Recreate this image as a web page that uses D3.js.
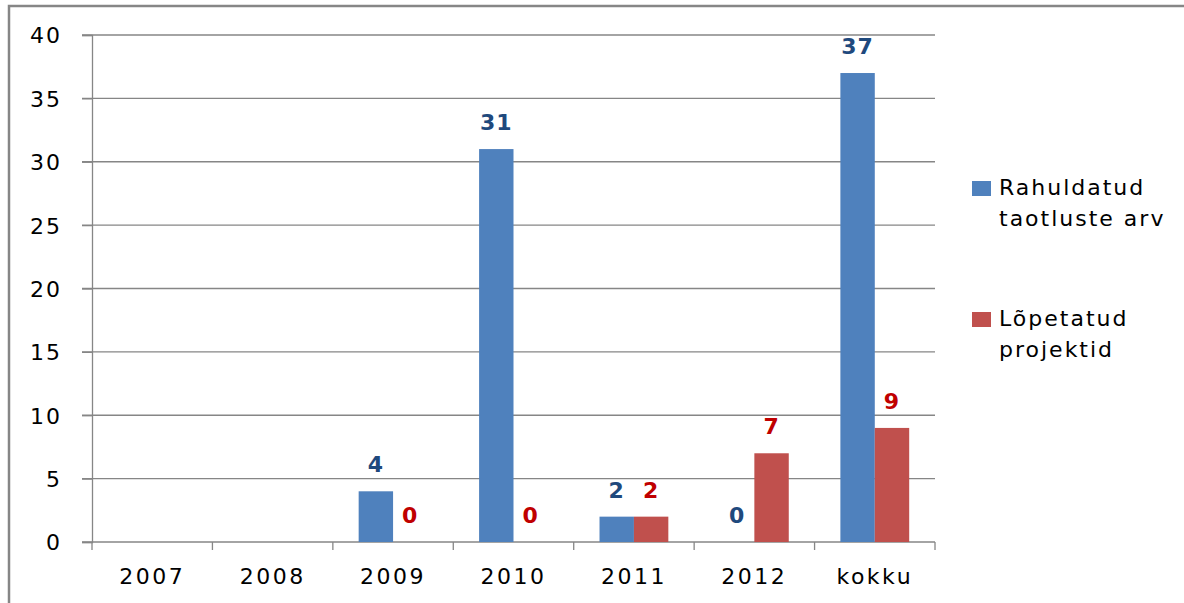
<!DOCTYPE html>
<html>
<head>
<meta charset="utf-8">
<script src="https://cdn.jsdelivr.net/npm/d3@7"></script>
<style>
  body { margin: 0; background: #fff; }
  text { font-family: "DejaVu Sans", Verdana, sans-serif; }
</style>
</head>
<body>
<div id="chart"></div>
<script>
var categories = ['2007', '2008', '2009', '2010', '2011', '2012', 'kokku'];
var seriesNames = ['Rahuldatud taotluste arv', 'Lõpetatud projektid'];
var rahuldatud = [null, null, 4, 31, 2, 0, 37];
var lopetatud = [null, null, 0, 0, 2, 7, 9];
var yTicks = [0, 5, 10, 15, 20, 25, 30, 35, 40];

var barColors = ['#4F81BD', '#C0504D'];
var labelColors = ['#1F497D', '#C00000'];
var gray = '#868686';

var width = 1184, height = 603;

var svg = d3.select('#chart')
    .append('svg')
    .attr('width', width)
    .attr('height', height);

// outer frame (only top and left edges are visible)
svg.append('path')
    .attr('d', 'M9,' + height + ' V6 H' + width)
    .attr('fill', 'none')
    .attr('stroke', gray)
    .attr('stroke-width', 2.5);

var yScale = d3.scaleLinear().domain([0, 40]).range([542, 35]);
var xScale = d3.scaleBand().domain(categories).range([92, 935]).padding(0);
var xInner = d3.scaleBand().domain([0, 1]).range([0, xScale.bandwidth()])
    .paddingInner(0).paddingOuter(0.75);

// gridlines
svg.append('g')
    .selectAll('line')
    .data(yTicks)
    .enter()
    .append('line')
    .attr('x1', 82)
    .attr('x2', 935)
    .attr('y1', function(d) { return yScale(d); })
    .attr('y2', function(d) { return yScale(d); })
    .attr('stroke', gray)
    .attr('stroke-width', 1.3);

// y axis
var yAxis = d3.axisLeft(yScale).tickValues(yTicks).tickSize(10).tickPadding(20);
var yG = svg.append('g').attr('transform', 'translate(92,0)').call(yAxis);
yG.select('.domain').attr('stroke', gray).attr('stroke-width', 1.3);
yG.selectAll('.tick line').attr('stroke', gray).attr('stroke-width', 1.3);
yG.selectAll('text')
    .attr('font-size', 22)
    .attr('letter-spacing', 2)
    .attr('fill', '#000')
    .attr('dy', '0.36em')
    .attr('font-family', '"DejaVu Sans", Verdana, sans-serif');

// x axis ticks at category boundaries
var bounds = categories.map(function(c) { return xScale(c); }).concat([xScale.range()[1]]);
svg.append('g')
    .selectAll('line')
    .data(bounds)
    .enter()
    .append('line')
    .attr('x1', function(d) { return d; })
    .attr('x2', function(d) { return d; })
    .attr('y1', yScale(0))
    .attr('y2', yScale(0) + 8)
    .attr('stroke', gray)
    .attr('stroke-width', 1.3);

svg.append('g')
    .selectAll('text')
    .data(categories)
    .enter()
    .append('text')
    .attr('x', function(d) { return xScale(d) + xScale.bandwidth() / 2; })
    .attr('y', 584)
    .attr('text-anchor', 'middle')
    .attr('font-size', 22)
    .attr('letter-spacing', 2.5)
    .attr('fill', '#000')
    .text(function(d) { return d; });

// bars and labels
var seriesData = [rahuldatud, lopetatud];
seriesData.forEach(function(values, si) {
    var pts = categories.map(function(c, i) { return { cat: c, value: values[i] }; })
        .filter(function(d) { return d.value !== null; });

    svg.append('g')
        .selectAll('rect')
        .data(pts)
        .enter()
        .append('rect')
        .attr('x', function(d) { return xScale(d.cat) + xInner(si); })
        .attr('width', xInner.bandwidth())
        .attr('y', function(d) { return yScale(d.value); })
        .attr('height', function(d) { return yScale(0) - yScale(d.value); })
        .attr('fill', barColors[si]);

    svg.append('g')
        .selectAll('text')
        .data(pts)
        .enter()
        .append('text')
        .attr('x', function(d) { return xScale(d.cat) + xInner(si) + xInner.bandwidth() / 2; })
        .attr('y', function(d) { return yScale(d.value) - 19; })
        .attr('text-anchor', 'middle')
        .attr('font-size', 22)
        .attr('font-weight', 'bold')
        .attr('letter-spacing', 1)
        .attr('fill', labelColors[si])
        .text(function(d) { return d.value; });
});

// legend
var legendLines = [['Rahuldatud', 'taotluste arv'], ['Lõpetatud', 'projektid']];
var legendTop = [181, 312];
var legend = svg.append('g');
seriesNames.forEach(function(name, i) {
    legend.append('rect')
        .attr('x', 972)
        .attr('y', legendTop[i])
        .attr('width', 19)
        .attr('height', 15)
        .attr('fill', barColors[i]);
    legendLines[i].forEach(function(line, j) {
        legend.append('text')
            .attr('x', 999)
            .attr('y', legendTop[i] + 14 + j * 31)
            .attr('font-size', 22)
            .attr('letter-spacing', 2)
            .attr('fill', '#000')
            .text(line);
    });
});
</script>
</body>
</html>
